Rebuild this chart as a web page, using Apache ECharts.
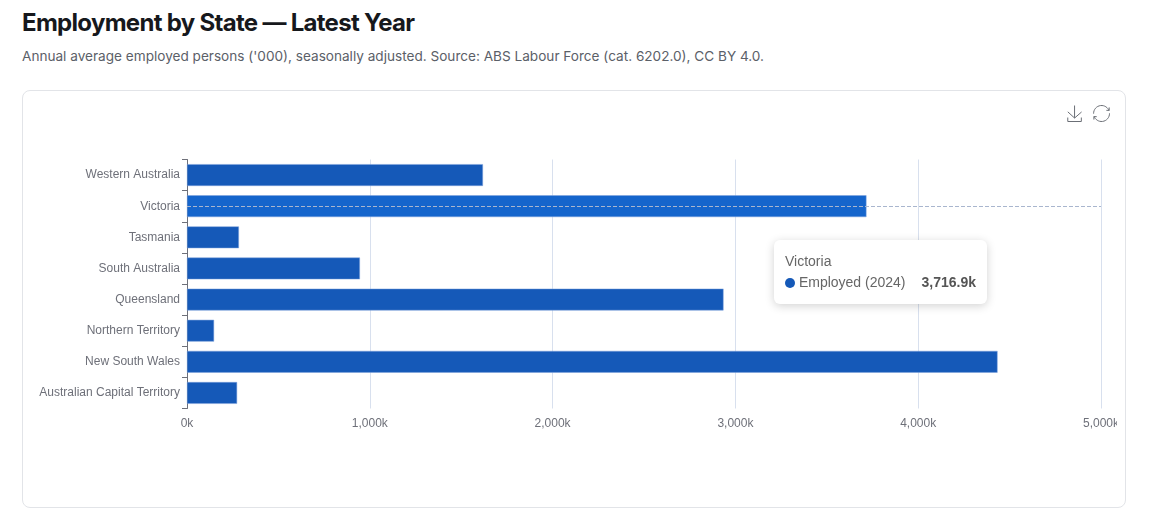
<!DOCTYPE html>
<html lang="en">
<head>
<meta charset="utf-8">
<title>Employment by State — Latest Year</title>
<script src="https://cdn.jsdelivr.net/npm/echarts@6/dist/echarts.min.js"></script>
<style>
  html, body { margin: 0; padding: 0; background: #fff; }
  body { width: 1153px; height: 532px; position: relative; overflow: hidden; font-family: Inter, sans-serif; }
  h1 { position: absolute; left: 22px; top: 9px; margin: 0; font-size: 24px; line-height: 28px; font-weight: 700; letter-spacing: -0.7px; color: #16181c; white-space: nowrap; }
  p { position: absolute; left: 22px; top: 47px; margin: 0; font-size: 13.6px; line-height: 18px; color: #5b6068; white-space: nowrap; }
  #card { position: absolute; left: 22px; top: 90px; width: 1102px; height: 416px; border: 1px solid #e2e4e8; border-radius: 8px; }
  #chart { position: absolute; left: 1px; top: 1px; width: 1093px; height: 415px; }
  .tip-head { color: #666; line-height: 21px; }
  .tip-row { display: flex; align-items: center; color: #666; line-height: 21px; margin-top: 0; }
  .tip-dot { width: 10px; height: 10px; border-radius: 50%; margin-right: 4px; background: #1559b8; }
  .tip-val { margin-left: 16px; font-weight: 700; color: #555; }
</style>
</head>
<body>
<h1>Employment by State — Latest Year</h1>
<p>Annual average employed persons ('000), seasonally adjusted. Source: ABS Labour Force (cat. 6202.0), CC BY 4.0.</p>
<div id="card"><div id="chart"></div></div>
<script>
const states = ['Australian Capital Territory', 'New South Wales', 'Northern Territory', 'Queensland', 'South Australia', 'Tasmania', 'Victoria', 'Western Australia'];
const employed2024 = [274, 4434, 148, 2935, 946, 284, 3716.9, 1619];
const seriesName = 'Employed (2024)';
const focusIndex = states.indexOf('Victoria');

const formatThousands = v => v.toLocaleString('en-US', { minimumFractionDigits: 1, maximumFractionDigits: 1 }) + 'k';

const chart = echarts.init(document.getElementById('chart'), null, { renderer: 'canvas' });
chart.setOption({
  animation: false,
  textStyle: { fontFamily: '"Liberation Sans", Arial, sans-serif' },
  grid: { left: 163, right: 16, top: 67.5, height: 249, outerBoundsMode: 'none' },
  toolbox: {
    right: -10, top: -4, itemSize: 16, itemGap: 7,
    iconStyle: { borderColor: '#6b6f76' },
    feature: { saveAsImage: { title: 'Save' }, restore: { title: 'Restore' } }
  },
  tooltip: {
    trigger: 'axis',
    axisPointer: { type: 'line', lineStyle: { type: 'dashed', color: '#a9b6ce', width: 1 } },
    transitionDuration: 0,
    position: () => [750, 148],
    padding: [11, 11],
    borderWidth: 0,
    extraCssText: 'border-radius:6px;box-shadow:0 2px 10px rgba(0,0,0,0.18);width:213px;height:64px;box-sizing:border-box;font-family:"Liberation Sans",Arial,sans-serif;font-size:14px;',
    formatter: params => {
      const p = params[0];
      return '<div class="tip-head">' + p.name + '</div>' +
        '<div class="tip-row"><span class="tip-dot"></span><span>' + p.seriesName + '</span>' +
        '<span class="tip-val">' + formatThousands(p.value) + '</span></div>';
    }
  },
  xAxis: {
    type: 'value', min: 0, max: 5000, interval: 1000,
    axisLine: { show: false }, axisTick: { show: false },
    axisLabel: { color: '#6E7079', fontSize: 12, margin: 9, formatter: v => v.toLocaleString('en-US') + 'k' },
    splitLine: { show: true, lineStyle: { color: '#d8e0ee' } }
  },
  yAxis: {
    type: 'category', data: states,
    axisLine: { show: true, lineStyle: { color: '#6E7079' } },
    axisTick: { show: true, length: 5, lineStyle: { color: '#6E7079' } },
    axisLabel: { color: '#6E7079', fontSize: 12, margin: 7, padding: [3, 0, 0, 0] },
    splitLine: { show: false }
  },
  series: [{
    name: seriesName,
    type: 'bar',
    data: employed2024,
    barCategoryGap: '30%',
    itemStyle: { color: '#1559b8', borderColor: '#7ea3dc', borderWidth: 0.5 },
    emphasis: { itemStyle: { color: '#1565cc', borderColor: '#7ea3dc', borderWidth: 0.5 } }
  }]
});
chart.dispatchAction({ type: 'highlight', seriesIndex: 0, dataIndex: focusIndex });
chart.dispatchAction({ type: 'showTip', seriesIndex: 0, dataIndex: focusIndex });
</script>
</body>
</html>
